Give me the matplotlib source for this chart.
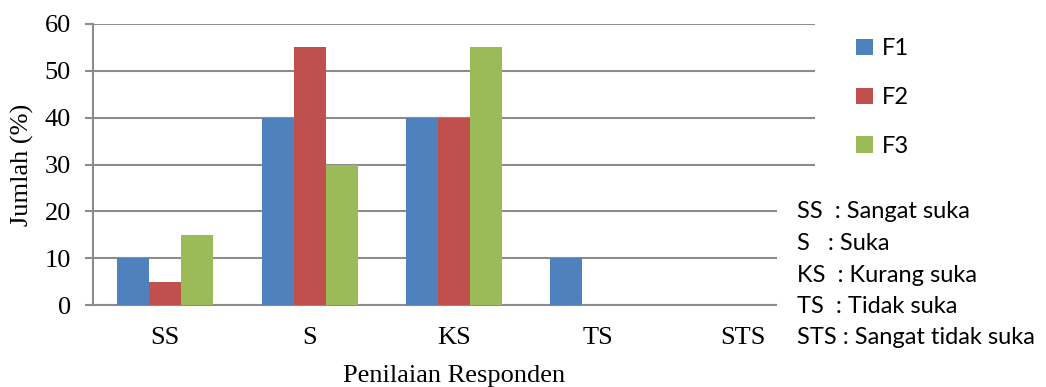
import numpy as np
import matplotlib.pyplot as plt
from matplotlib.patches import Rectangle

# data
categories = ["SS", "S", "KS", "TS", "STS"]
f1 = [10, 40, 40, 10, 0]
f2 = [5, 55, 40, 0, 0]
f3 = [15, 30, 55, 0, 0]
series_names = ["F1", "F2", "F3"]
colors = ["#4F81BD", "#C0504D", "#9BBB59"]
notes = ["SS  : Sangat suka", "S   : Suka", "KS  : Kurang suka",
         "TS  : Tidak suka", "STS : Sangat tidak suka"]

W, H = 1046, 387
fig = plt.figure(figsize=(W / 100, H / 100), dpi=100)
ax = fig.add_axes([93 / W, 82 / H, 722 / W, 281 / H])

x = np.arange(len(categories))
w = 0.222
for i, (vals, c) in enumerate(zip([f1, f2, f3], colors)):
    ax.bar(x + (i - 1) * w, vals, w, color=c, zorder=3, label=series_names[i])

ax.set_xlim(-0.5, 4.5)
ax.set_ylim(0, 60)
ax.set_yticks(range(0, 61, 10))
ax.yaxis.grid(True, color="#8c8c8c", lw=1.5, zorder=0)
for s in ["top", "right"]:
    ax.spines[s].set_visible(False)
for s in ["left", "bottom"]:
    ax.spines[s].set_color("#8c8c8c")
    ax.spines[s].set_linewidth(1.5)

serif = "Liberation Serif"
ax.set_xticks(x)
ax.set_xticklabels(categories, family=serif, fontsize=19)
ax.tick_params(axis="x", length=0, pad=16)
ax.tick_params(axis="y", length=6, width=1.5, color="#8c8c8c", pad=10)
for t in ax.get_yticklabels():
    t.set_family(serif)
    t.set_fontsize(19)

fig.text(454 / W, 1 - 376 / H, "Penilaian Responden", family=serif, fontsize=19,
         ha="center", va="center")
fig.text(22 / W, 1 - 165 / H, "Jumlah (%)", family=serif, fontsize=19,
         ha="center", va="center", rotation=90)

ax.legend(loc="upper left", bbox_to_anchor=(835 / W, 1 - 17 / H),
          bbox_transform=fig.transFigure, frameon=False,
          prop={"family": "Lato", "size": 17}, labelspacing=1.18,
          handlelength=0.7, handleheight=0.7, handletextpad=0.4)

# white box behind the notes hides the gridline ends
fig.patches.append(Rectangle((777 / W, 0), 1, 1 - 190 / H, transform=fig.transFigure,
                             facecolor="white", edgecolor="none", zorder=5))
for i, n in enumerate(notes):
    fig.text(797 / W, 1 - (212 + i * 31.5) / H, n, family="Lato", fontsize=17,
             va="center", ha="left", zorder=6)

fig.savefig("out.png", dpi=100)
